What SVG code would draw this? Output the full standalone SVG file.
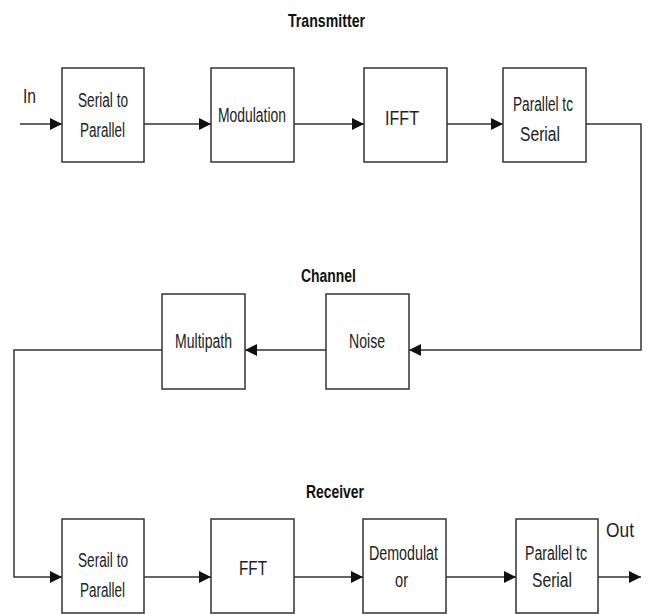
<svg xmlns="http://www.w3.org/2000/svg" width="651" height="614" viewBox="0 0 651 614">
<style>
.box{fill:#fff;stroke:#333;stroke-width:1.5}
.ln{fill:none;stroke:#333;stroke-width:1.5}
.lbl{font-family:"Liberation Sans",Arial,sans-serif;font-size:20px;fill:#222}
.ttl{font-family:"Liberation Sans",Arial,sans-serif;font-size:18px;font-weight:bold;fill:#111}
</style>
<defs>
<marker id="ah" markerUnits="userSpaceOnUse" markerWidth="13" markerHeight="12" refX="12" refY="6" orient="auto">
<path d="M0,0 L12,6 L0,12 z" fill="#111"/>
</marker>
</defs>
<rect width="651" height="614" fill="#fff"/>
<text class="ttl" x="288" y="27" textLength="77" lengthAdjust="spacingAndGlyphs">Transmitter</text>
<text class="ttl" x="301" y="282" textLength="55" lengthAdjust="spacingAndGlyphs">Channel</text>
<text class="ttl" x="306" y="498" textLength="58" lengthAdjust="spacingAndGlyphs">Receiver</text>
<text class="lbl" x="23" y="103" textLength="13" lengthAdjust="spacingAndGlyphs">In</text>
<text class="lbl" x="606" y="537" textLength="28" lengthAdjust="spacingAndGlyphs">Out</text>
<g id="connectors">
<line class="ln" x1="20" y1="124" x2="62" y2="124" marker-end="url(#ah)"/>
<line class="ln" x1="144" y1="124" x2="211" y2="124" marker-end="url(#ah)"/>
<line class="ln" x1="294" y1="124" x2="364" y2="124" marker-end="url(#ah)"/>
<line class="ln" x1="447" y1="124" x2="503" y2="124" marker-end="url(#ah)"/>
<polyline class="ln" points="586,124 641,124 641,350 409,350" marker-end="url(#ah)"/>
<line class="ln" x1="326" y1="350" x2="245" y2="350" marker-end="url(#ah)"/>
<polyline class="ln" points="162,350 14,350 14,577 62,577" marker-end="url(#ah)"/>
<line class="ln" x1="144" y1="577" x2="211" y2="577" marker-end="url(#ah)"/>
<line class="ln" x1="294" y1="577" x2="363" y2="577" marker-end="url(#ah)"/>
<line class="ln" x1="446" y1="577" x2="516" y2="577" marker-end="url(#ah)"/>
<line class="ln" x1="598" y1="577" x2="641" y2="577" marker-end="url(#ah)"/>
</g>
<g id="tx-s2p">
<rect class="box" x="62" y="68" width="82" height="94"/>
<text class="lbl" x="78" y="107" textLength="50" lengthAdjust="spacingAndGlyphs">Serial to</text>
<text class="lbl" x="80" y="137" textLength="45" lengthAdjust="spacingAndGlyphs">Parallel</text>
</g>
<g id="tx-mod">
<rect class="box" x="211" y="68" width="83" height="94"/>
<text class="lbl" x="218" y="122" textLength="68" lengthAdjust="spacingAndGlyphs">Modulation</text>
</g>
<g id="tx-ifft">
<rect class="box" x="364" y="68" width="83" height="94"/>
<text class="lbl" x="385" y="125" textLength="34" lengthAdjust="spacingAndGlyphs">IFFT</text>
</g>
<g id="tx-p2s">
<rect class="box" x="503" y="68" width="83" height="94"/>
<text class="lbl" x="513" y="111" textLength="60" lengthAdjust="spacingAndGlyphs">Parallel tc</text>
<text class="lbl" x="520" y="141" textLength="40" lengthAdjust="spacingAndGlyphs">Serial</text>
</g>
<g id="ch-noise">
<rect class="box" x="326" y="294" width="83" height="95"/>
<text class="lbl" x="349" y="348" textLength="36" lengthAdjust="spacingAndGlyphs">Noise</text>
</g>
<g id="ch-multipath">
<rect class="box" x="162" y="294" width="83" height="95"/>
<text class="lbl" x="175" y="348" textLength="57" lengthAdjust="spacingAndGlyphs">Multipath</text>
</g>
<g id="rx-s2p">
<rect class="box" x="62" y="519" width="82" height="94"/>
<text class="lbl" x="78" y="567" textLength="50" lengthAdjust="spacingAndGlyphs">Serail to</text>
<text class="lbl" x="80" y="597" textLength="45" lengthAdjust="spacingAndGlyphs">Parallel</text>
</g>
<g id="rx-fft">
<rect class="box" x="211" y="519" width="83" height="94"/>
<text class="lbl" x="239" y="575" textLength="28" lengthAdjust="spacingAndGlyphs">FFT</text>
</g>
<g id="rx-demod">
<rect class="box" x="363" y="519" width="83" height="94"/>
<text class="lbl" x="369" y="560" textLength="69" lengthAdjust="spacingAndGlyphs">Demodulat</text>
<text class="lbl" x="395" y="587" textLength="13" lengthAdjust="spacingAndGlyphs">or</text>
</g>
<g id="rx-p2s">
<rect class="box" x="516" y="519" width="82" height="94"/>
<text class="lbl" x="525" y="560" textLength="62" lengthAdjust="spacingAndGlyphs">Parallel tc</text>
<text class="lbl" x="532" y="587" textLength="40" lengthAdjust="spacingAndGlyphs">Serial</text>
</g>
</svg>
